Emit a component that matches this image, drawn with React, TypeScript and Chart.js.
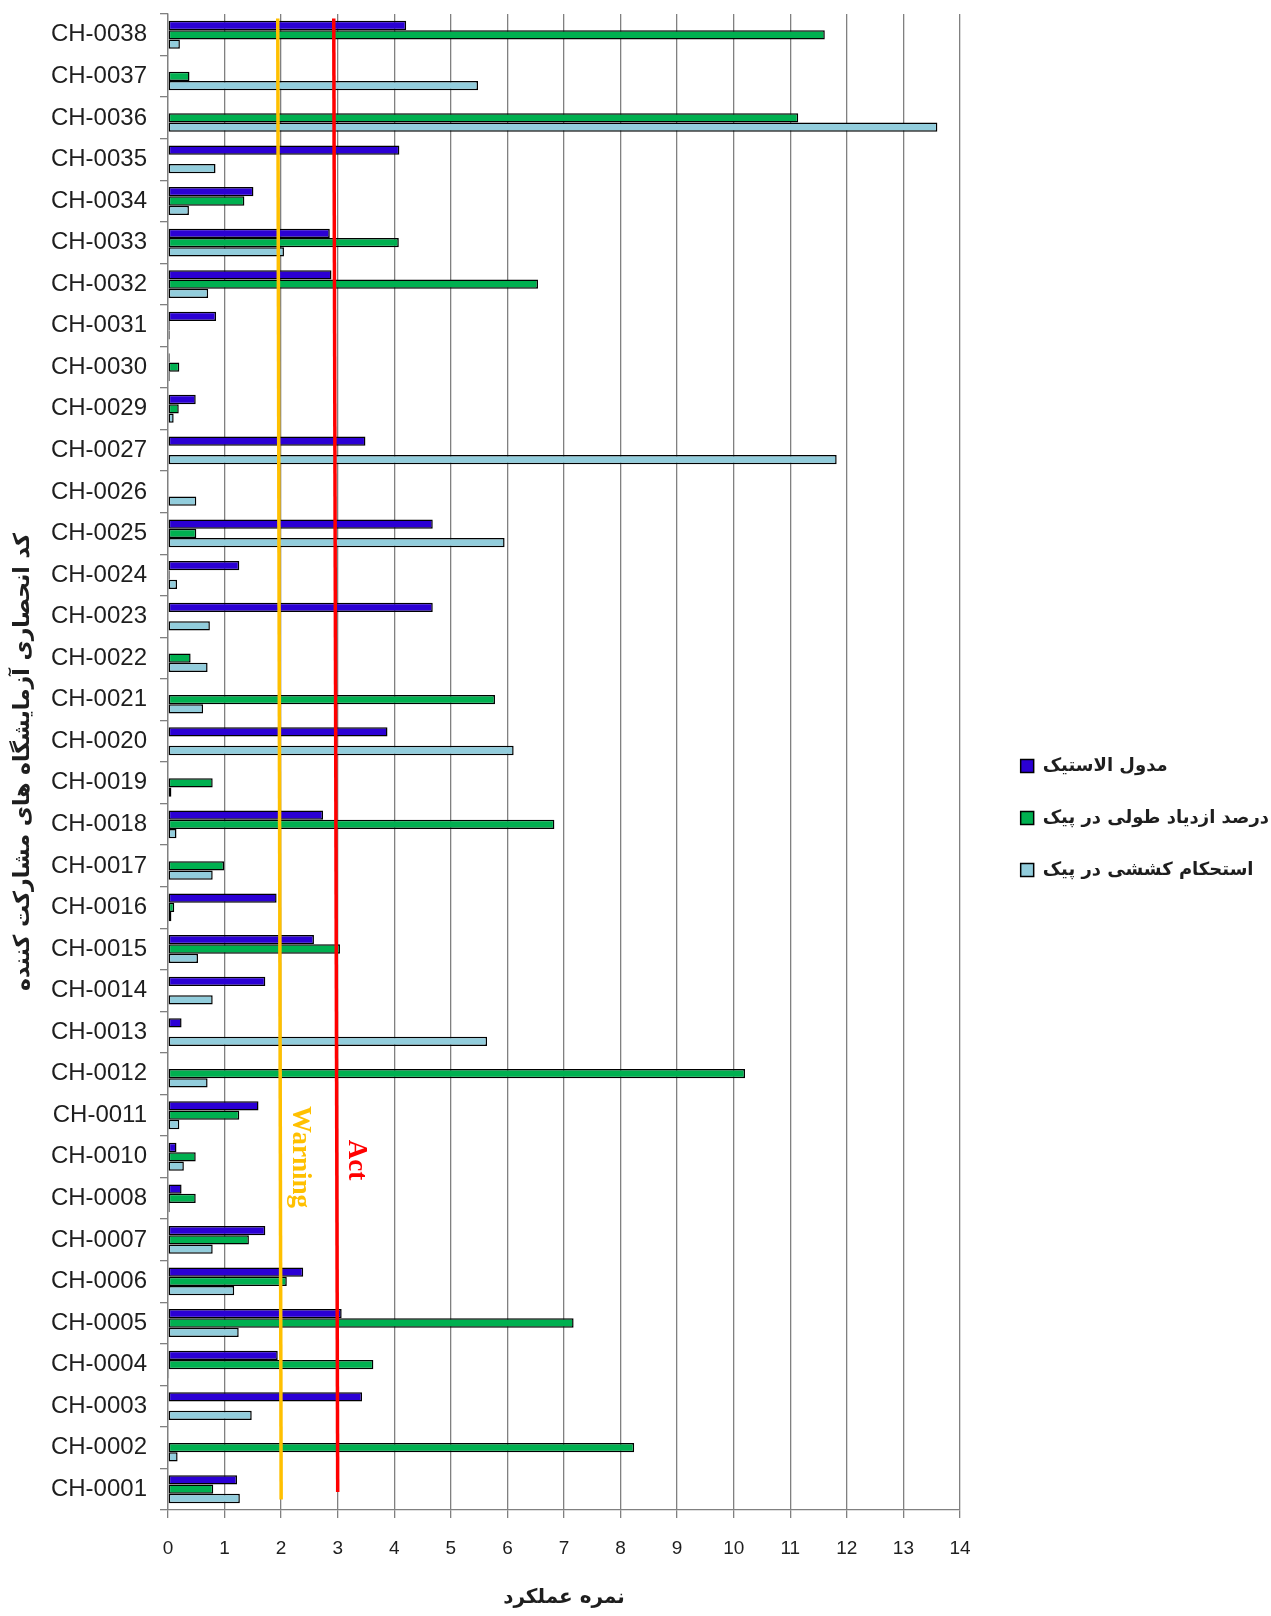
import React, { useEffect, useRef } from 'react';
import { Chart, registerables } from 'chart.js';

Chart.register(...registerables);

// ---- data (top to bottom as in the picture) ----
const CATEGORIES = [
  'CH-0038', 'CH-0037', 'CH-0036', 'CH-0035', 'CH-0034', 'CH-0033', 'CH-0032', 'CH-0031',
  'CH-0030', 'CH-0029', 'CH-0027', 'CH-0026', 'CH-0025', 'CH-0024', 'CH-0023', 'CH-0022',
  'CH-0021', 'CH-0020', 'CH-0019', 'CH-0018', 'CH-0017', 'CH-0016', 'CH-0015', 'CH-0014',
  'CH-0013', 'CH-0012', 'CH-0011', 'CH-0010', 'CH-0008', 'CH-0007', 'CH-0006', 'CH-0005',
  'CH-0004', 'CH-0003', 'CH-0002', 'CH-0001',
];

const MODULUS = [
  4.21, 0, 0, 4.09, 1.51, 2.86, 2.89, 0.85,
  0.03, 0.49, 3.49, 0, 4.68, 1.26, 4.68, 0,
  0, 3.88, 0, 2.74, 0, 1.92, 2.58, 1.72,
  0.24, 0, 1.6, 0.15, 0.24, 1.72, 2.39, 3.07,
  1.94, 3.43, 0, 1.22,
];

const ELONGATION = [
  11.61, 0.38, 11.14, 0, 1.35, 4.08, 6.54, 0.03,
  0.2, 0.19, 0, 0, 0.5, 0.03, 0, 0.4,
  5.78, 0, 0.79, 6.83, 0.99, 0.11, 3.04, 0,
  0, 10.2, 1.26, 0.49, 0.49, 1.43, 2.1, 7.17,
  3.63, 0, 8.24, 0.8,
];

const TENSILE = [
  0.21, 5.48, 13.6, 0.84, 0.37, 2.05, 0.71, 0.03,
  0.03, 0.1, 11.82, 0.5, 5.95, 0.16, 0.74, 0.7,
  0.62, 6.11, 0.06, 0.15, 0.79, 0.06, 0.53, 0.79,
  5.64, 0.7, 0.2, 0.28, 0.03, 0.79, 1.17, 1.25,
  0.02, 1.48, 0.17, 1.27,
];

const SERIES_NAMES = ['مدول الاستیک', 'درصد ازدیاد طولی در پیک', 'استحکام کششی در پیک'];
const SERIES_COLORS = ['#2B00D4', '#00B050', '#92CDDC'];

const X_MIN = 0;
const X_MAX = 14;
const X_STEP = 1;

const X_TITLE = 'نمره عملکرد';
const Y_TITLE = 'کد انحصاری آزمایشگاه های مشارکت کننده';

// threshold lines: score at top / bottom end, and vertical extent as fraction of plot height
const THRESHOLD_NAMES = ['Warning', 'Act'];
const THRESHOLD_TOP_SCORE = [1.94, 2.93];
const THRESHOLD_BOTTOM_SCORE = [2.0, 3.0];
const THRESHOLD_TOP_FRAC = [0.997, 0.997];
const THRESHOLD_BOTTOM_FRAC = [0.007, 0.012];
const THRESHOLD_LABEL_SCORE = [2.33, 3.33];
const THRESHOLD_LABEL_FRAC = [0.236, 0.234];
const THRESHOLD_COLORS = ['#FFC000', '#FF0000'];

// ---- style constants ----
const W = 1271;
const H = 1616;
const GRID = '#808080';
const TEXT = '#1e1e1e';
const PLOT_LEFT = 168;
const PLOT_RIGHT = 960;
const PLOT_TOP = 14;
const PLOT_BOTTOM = 1510;
const LEGEND_FONT = { family: '"DejaVu Sans"', size: 18, weight: 'bold' as const };
const LEGEND_PAD = 34;
const LEGEND_BOX = 13;
const LEGEND_BOX_LEFT = 1022;
const LEGEND_TEXT_RIGHT = 1269;
const LEGEND_FIRST_CENTER = 766;

const thresholdPlugin = {
  id: 'thresholds',
  afterDatasetsDraw(chart: any) {
    const xs = chart.scales.x;
    const { top, bottom } = chart.chartArea;
    const fy = (f: number) => bottom - f * (bottom - top);
    const ctx = chart.ctx;
    THRESHOLD_NAMES.forEach((name, i) => {
      ctx.save();
      ctx.strokeStyle = THRESHOLD_COLORS[i];
      ctx.lineWidth = 3.5;
      ctx.beginPath();
      ctx.moveTo(xs.getPixelForValue(THRESHOLD_TOP_SCORE[i]), fy(THRESHOLD_TOP_FRAC[i]));
      ctx.lineTo(xs.getPixelForValue(THRESHOLD_BOTTOM_SCORE[i]), fy(THRESHOLD_BOTTOM_FRAC[i]));
      ctx.stroke();
      ctx.translate(xs.getPixelForValue(THRESHOLD_LABEL_SCORE[i]), fy(THRESHOLD_LABEL_FRAC[i]));
      ctx.rotate(Math.PI / 2);
      ctx.font = 'bold 27px "Liberation Serif", "Times New Roman", serif';
      ctx.fillStyle = THRESHOLD_COLORS[i];
      ctx.textAlign = 'center';
      ctx.textBaseline = 'middle';
      ctx.fillText(name, 0, 0);
      ctx.restore();
    });
  },
};

export default function App() {
  const ref = useRef<HTMLCanvasElement | null>(null);

  useEffect(() => {
    document.body.style.margin = '0';
    const canvas = ref.current;
    if (!canvas) return;

    // natural legend width, so that the plot ends at PLOT_RIGHT
    const mctx = document.createElement('canvas').getContext('2d')!;
    mctx.font = `bold ${LEGEND_FONT.size}px ${LEGEND_FONT.family}`;
    const textW = Math.max(...SERIES_NAMES.map((s) => mctx.measureText(s).width));
    const itemW = LEGEND_BOX + LEGEND_FONT.size / 2 + textW;
    const legendW = LEGEND_PAD + itemW + 10;
    const padRight = Math.max(0, W - PLOT_RIGHT - legendW);
    const boxLeft = Math.min(LEGEND_BOX_LEFT, LEGEND_TEXT_RIGHT - itemW);

    const legendPlacer = {
      id: 'legendPlacer',
      beforeDraw(chart: any) {
        const lg = chart.legend;
        if (!lg) return;
        const dx = boxLeft - (lg.left + LEGEND_PAD);
        const dy = (LEGEND_FIRST_CENTER - LEGEND_FONT.size / 2) - (lg.top + LEGEND_PAD);
        lg.left += dx; lg.right += dx; lg.top += dy; lg.bottom += dy;
      },
    };

    const barDs = (i: number, data: number[]) => ({
      label: SERIES_NAMES[i],
      data,
      backgroundColor: SERIES_COLORS[i],
      borderColor: '#000000',
      borderWidth: 1.5,
      borderSkipped: false,
      categoryPercentage: 0.67,
      barPercentage: 1,
    });

    const chart = new Chart(canvas, {
      type: 'bar',
      data: {
        labels: CATEGORIES,
        datasets: [barDs(0, MODULUS), barDs(1, ELONGATION), barDs(2, TENSILE)] as any,
      },
      options: {
        indexAxis: 'y',
        animation: false,
        responsive: false,
        devicePixelRatio: 1,
        layout: { padding: { top: PLOT_TOP, right: padRight, bottom: 0, left: 0 } },
        plugins: {
          tooltip: { enabled: false },
          legend: {
            position: 'right',
            align: 'start',
            labels: {
              boxWidth: LEGEND_BOX,
              boxHeight: LEGEND_BOX,
              padding: LEGEND_PAD,
              color: TEXT,
              font: LEGEND_FONT,
            },
          },
        },
        scales: {
          x: {
            type: 'linear',
            position: 'bottom',
            min: X_MIN,
            max: X_MAX,
            afterFit: (s: any) => { s.height = H - PLOT_BOTTOM; },
            ticks: {
              stepSize: X_STEP,
              color: TEXT,
              padding: 19,
              font: { family: '"Liberation Sans", Arial, sans-serif', size: 19 },
            },
            grid: {
              color: GRID,
              lineWidth: 1.3,
              drawTicks: true,
              tickLength: 8,
              tickColor: GRID,
            },
            border: { display: true, color: GRID, width: 1.3 },
            title: {
              display: true,
              text: X_TITLE,
              color: TEXT,
              font: { family: '"DejaVu Sans"', size: 20, weight: 'bold' },
              padding: { top: 0, bottom: 6 },
            },
          },
          y: {
            type: 'category',
            position: 'left',
            offset: true,
            afterFit: (s: any) => {
              s.width = PLOT_LEFT;
              s.paddingTop = 0;
              s.paddingBottom = 0;
            },
            ticks: {
              autoSkip: false,
              color: TEXT,
              padding: 13,
              font: { family: '"Liberation Sans", Arial, sans-serif', size: 24 },
            },
            grid: {
              display: true,
              offset: true,
              drawOnChartArea: false,
              drawTicks: true,
              tickLength: 8,
              color: GRID,
              tickColor: GRID,
              lineWidth: 1.3,
            },
            border: { display: true, color: GRID, width: 1.3 },
            title: {
              display: true,
              text: Y_TITLE,
              color: TEXT,
              font: { family: '"DejaVu Sans"', size: 22, weight: 'bold' },
              padding: { top: 10, bottom: 0 },
            },
          },
        } as any,
      },
      plugins: [legendPlacer, thresholdPlugin],
    });
    return () => chart.destroy();
  }, []);

  return (
    <div style={{ width: W, height: H }}>
      <canvas ref={ref} width={W} height={H} style={{ display: 'block' }} />
    </div>
  );
}
